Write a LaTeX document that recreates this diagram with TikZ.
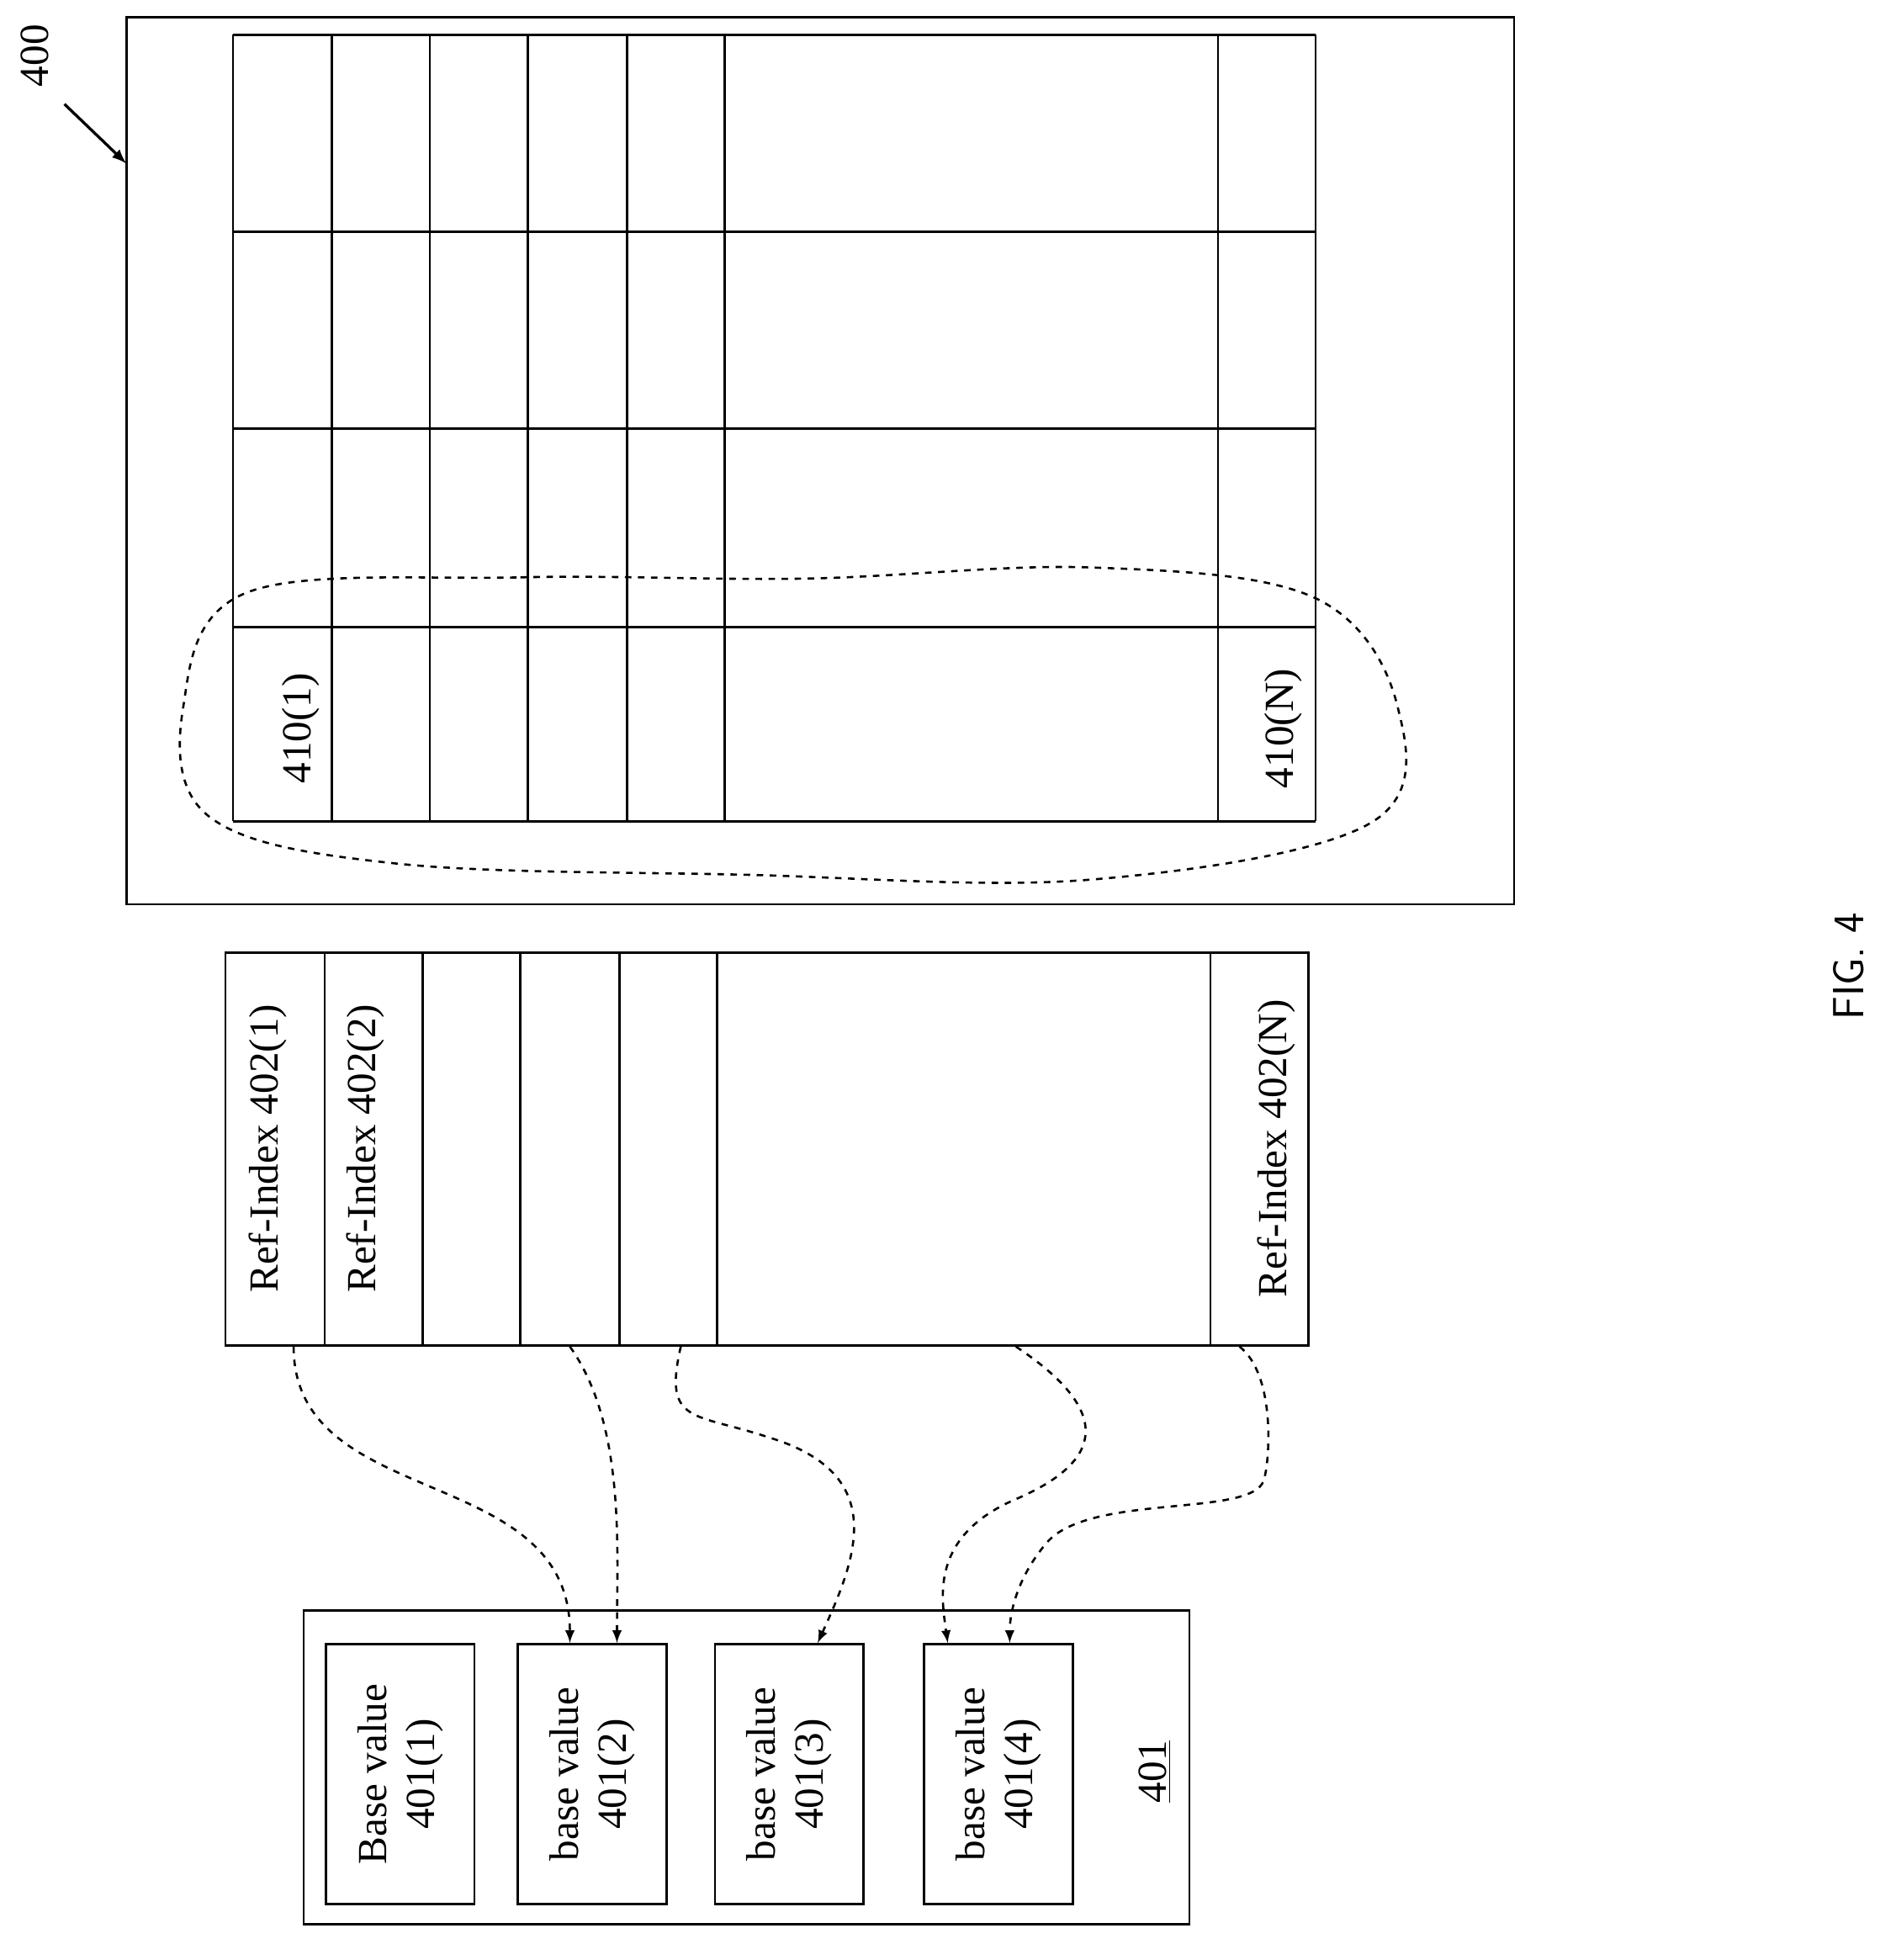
\documentclass[tikz,border=0pt]{standalone}
\usepackage{fontspec}
\setmainfont{Liberation Serif}
\usetikzlibrary{calc}
\begin{document}
\begin{tikzpicture}[x=0.02cm, y=-0.02cm, line width=1pt]
\tikzstyle{cell}=[rectangle, draw=black, line width=1pt, inner sep=0pt]
\tikzstyle{lbl}=[rotate=90, font=\fontsize{19}{22}\selectfont, align=center]
\tikzstyle{connect}=[-latex, dashed, line width=1pt]
\useasboundingbox (0,0) rectangle (1530,1582);

  % figure 400
  \node[cell, minimum width=1120*0.02cm, minimum height=716*0.02cm] (fig) at (662,372) {};
  \foreach \x in {188,268,347,426,506,585,983,1062}
    \draw (\x,28) -- (\x,663);
  \foreach \y in {28,187,346,506,663}
    \draw (188,\y) -- (1062,\y);
  \node[lbl] (lone) at (243,588) {410(1)};
  \node[lbl] (lN)   at (1036,588) {410(N)};
  \draw[dashed] plot[smooth cycle, tension=0.6] coordinates {(200,478) (420,466) (650,467) (880,458) (1060,482) (1128,570) (1105,665) (880,710) (600,706) (320,697) (170,660) (148,570)};
  \node[lbl] (num) at (28,45) {400};
  \coordinate (tip) at (102,132);
  \draw[-latex, line width=1.3pt] (52,84) -- (tip);

  % ref-index table
  \node[cell, minimum width=80*0.02cm, minimum height=317*0.02cm] (ri1) at (222,927.5) {};
  \node[cell, minimum width=79*0.02cm, minimum height=317*0.02cm] (ri2) at (301.5,927.5) {};
  \node[cell, minimum width=79*0.02cm, minimum height=317*0.02cm] (ri3) at (380.5,927.5) {};
  \node[cell, minimum width=80*0.02cm, minimum height=317*0.02cm] (ri4) at (460,927.5) {};
  \node[cell, minimum width=79*0.02cm, minimum height=317*0.02cm] (ri5) at (539.5,927.5) {};
  \node[cell, minimum width=398*0.02cm, minimum height=317*0.02cm] (ri6) at (778,927.5) {};
  \node[cell, minimum width=79*0.02cm, minimum height=317*0.02cm] (ri7) at (1016.5,927.5) {};
  \node[lbl] at (216,927) {Ref-Index 402(1)};
  \node[lbl] at (295,927) {Ref-Index 402(2)};
  \node[lbl] at (1030,927) {Ref-Index 402(N)};

  % base values 401
  \node[cell, minimum width=715*0.02cm, minimum height=253*0.02cm] (base) at (602.5,1426.5) {};
  \node[cell, minimum width=120*0.02cm, minimum height=210*0.02cm] (bv1) at (323,1432) {};
  \node[cell, minimum width=120*0.02cm, minimum height=210*0.02cm] (bv2) at (478,1432) {};
  \node[cell, minimum width=120*0.02cm, minimum height=210*0.02cm] (bv3) at (637,1432) {};
  \node[cell, minimum width=120*0.02cm, minimum height=210*0.02cm] (bv4) at (806,1432) {};
  \node[lbl] at (bv1) {Base value\\401(1)};
  \node[lbl] at (bv2) {base value\\401(2)};
  \node[lbl] at (bv3) {base value\\401(3)};
  \node[lbl] at (bv4) {base value\\401(4)};
  \node[lbl] (bnum) at (932,1430) {\underline{401}};

  % references
  \draw[connect] ($(ri1.south)+(15,0)$) .. controls (237,1220) and (460,1180) .. ($(bv2.north)+(-18,0)$);
  \draw[connect] (ri4.south) .. controls (505,1150) and (498,1250) .. ($(bv2.north)+(20,0)$);
  \draw[connect] ($(ri5.south)+(10,0)$) .. controls (535,1150) and (560,1140) .. (620,1160) .. controls (720,1190) and (690,1260) .. ($(bv3.north)+(23,0)$);
  \draw[connect] ($(ri6.south)+(42,0)$) .. controls (900,1140) and (890,1180) .. (820,1210) .. controls (750,1240) and (760,1290) .. ($(bv4.north)+(-41,0)$);
  \draw[connect] ($(ri7.south)+(-16,0)$) .. controls (1030,1110) and (1025,1180) .. (1020,1195) .. controls (1010,1225) and (880,1205) .. (845,1245) .. controls (822,1272) and (815,1300) .. ($(bv4.north)+(9,0)$);

  \node[rotate=90, font=\sffamily\fontsize{20}{24}\selectfont] (cap) at (1492,780) {FIG. 4};
\end{tikzpicture}
\end{document}
